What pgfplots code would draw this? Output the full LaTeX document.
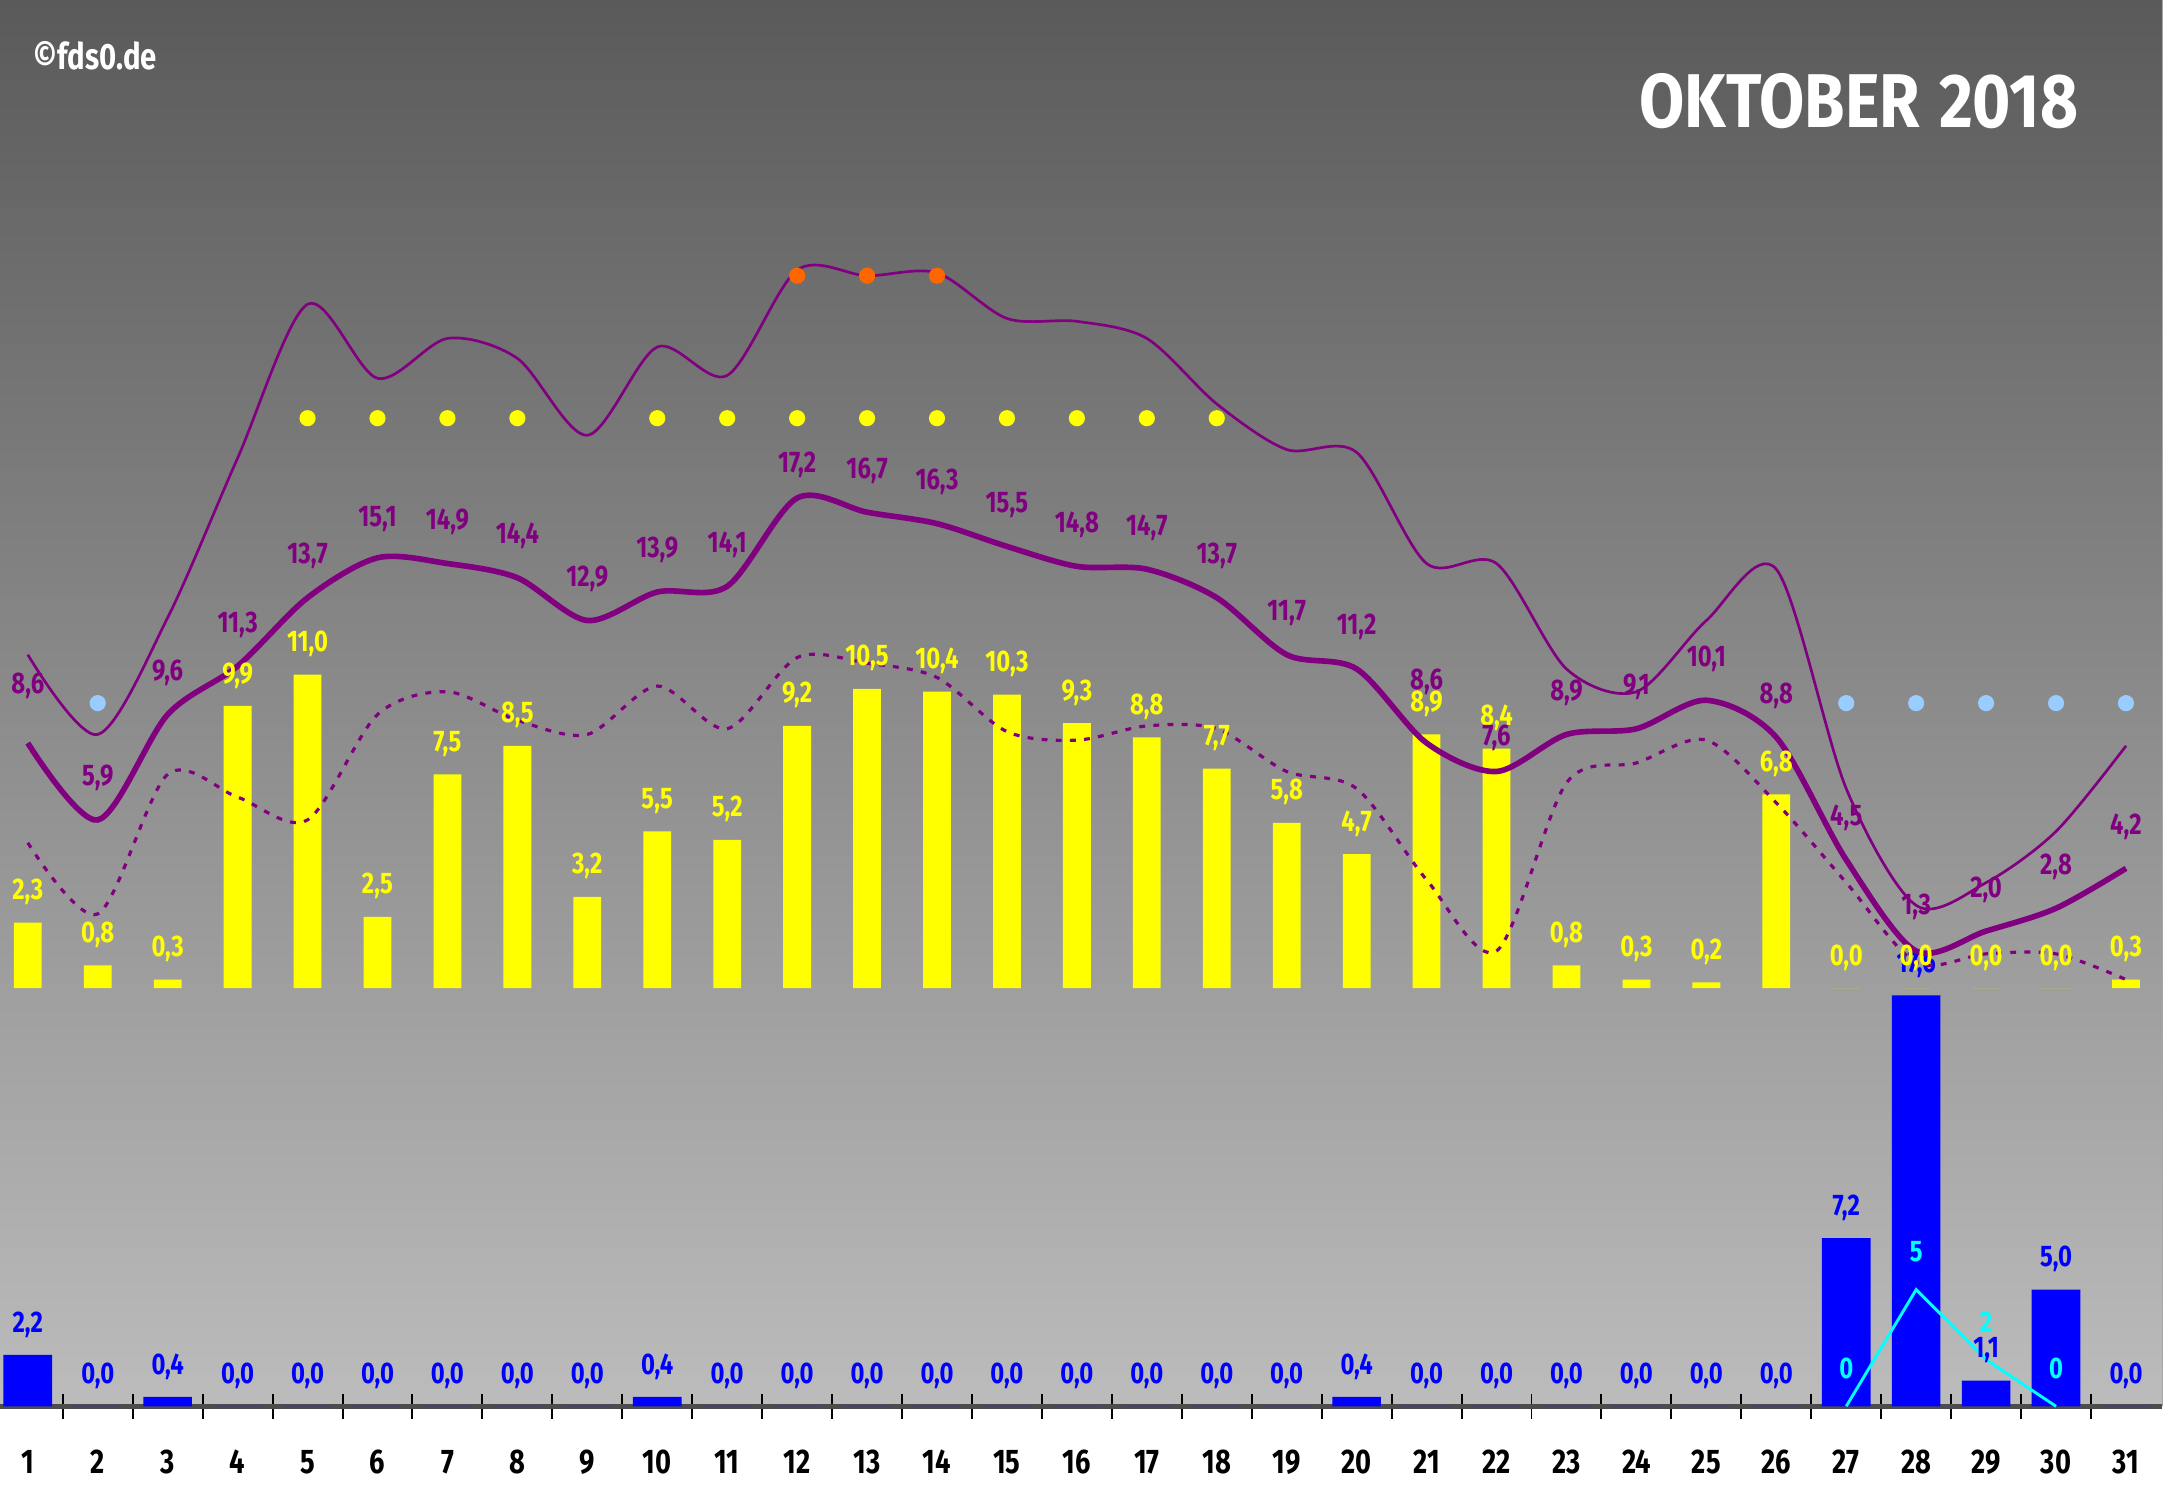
\documentclass[border=0pt]{standalone}
\usepackage{fontspec}
\setmainfont{Fira Sans}[FakeStretch=0.8]
\newfontfamily\titlefont{Fira Sans}[FakeStretch=0.86]
\usepackage{pgfplots}
\pgfplotsset{compat=1.18}

\definecolor{bgtop}{HTML}{5A5A5A}
\definecolor{bgmid}{HTML}{929292}
\definecolor{bgbot}{HTML}{BCBCBC}
\definecolor{sun}{HTML}{FFFF00}
\definecolor{rain}{HTML}{0000FF}
\definecolor{temp}{HTML}{800080}
\definecolor{snow}{HTML}{00FFFF}
\definecolor{cold}{HTML}{99CCFF}
\definecolor{hot}{HTML}{FF6600}

\newcommand{\lbl}{\fontsize{6.1}{7}\selectfont\bfseries}

\pgfplotsset{
  base/.style={
    scale only axis, width=15.56cm, height=10.12cm,
    at={(0cm,0.63cm)}, anchor=south west,
    xmin=0.6026, xmax=31.52, clip=false,
    /pgf/number format/use comma,
    /pgf/number format/fixed,
    /pgf/number format/fixed zerofill,
    /pgf/number format/precision=1,
    /pgf/number format/assume math mode=true,
  },
}

% mean temperature, with the label lift (cm) used for each day
\pgfplotstableread{
day mean lift
1   8.6  0.41
2   5.9  0.30
3   9.6  0.30
4   11.3 0.30
5   13.7 0.30
6   15.1 0.28
7   14.9 0.30
8   14.4 0.30
9   12.9 0.30
10  13.9 0.30
11  14.1 0.30
12  17.2 0.24
13  16.7 0.30
14  16.3 0.30
15  15.5 0.30
16  14.8 0.30
17  14.7 0.30
18  13.7 0.30
19  11.7 0.30
20  11.2 0.30
21  8.6  0.44
22  7.6  0.24
23  8.9  0.30
24  9.1  0.30
25  10.1 0.30
26  8.8  0.30
27  4.5  0.30
28  1.3  0.32
29  2.0  0.30
30  2.8  0.30
31  4.2  0.30
}\meantemp

\begin{document}
\begin{tikzpicture}
\path[use as bounding box] (0,0) rectangle (15.68,10.75);
\fill[white] (0,0) rectangle (15.68,10.75);
\shade[top color=bgtop, middle color=bgmid, bottom color=bgbot] (0,0.63) rectangle (15.56,10.75);
\draw[black!35, line width=0.3pt] (15.56,0.63) -- (15.56,10.75);

% precipitation axis (mm), with day ticks
\begin{axis}[base,
  ymin=0, ymax=60.24,
  axis x line*=bottom, hide y axis,
  x axis line style={-, line width=0.9pt, draw=black!70},
  xtick={1,...,31}, major tick length=0pt,
  xticklabel={\pgfmathparse{int(round(\tick))}\pgfmathresult},
  minor xtick={1.5,2.5,...,30.5}, minor tick length=0.18cm,
  tick align=center, minor tick style={black, line width=0.4pt},
  xticklabel style={font=\fontsize{7}{8}\selectfont\bfseries, black, anchor=center, yshift=-0.4cm},
]
  \addplot[ybar, bar shift=0pt, bar width=0.35cm, fill=rain, draw=none,
    nodes near coords, nodes near coords style={rain, font=\lbl, anchor=center, yshift=0.22cm}]
  coordinates {
    (1,2.2) (2,0.0) (3,0.4) (4,0.0) (5,0.0) (6,0.0) (7,0.0) (8,0.0) (9,0.0) (10,0.4)
    (11,0.0) (12,0.0) (13,0.0) (14,0.0) (15,0.0) (16,0.0) (17,0.0) (18,0.0) (19,0.0) (20,0.4)
    (21,0.0) (22,0.0) (23,0.0) (24,0.0) (25,0.0) (26,0.0) (27,7.2) (28,17.6) (29,1.1) (30,5.0)
    (31,0.0)
  };
  % snow depth (cm)
  \addplot[snow, line width=0.6pt, point meta=explicit symbolic,
    nodes near coords, nodes near coords style={snow, font=\lbl, anchor=center, yshift=0.27cm}]
  coordinates {(27,0) [0] (28,5) [5] (29,2) [2] (30,0) [0]};
\end{axis}

% temperature and sunshine axis
\begin{axis}[base,
  ymin=-14.68, ymax=34.68,
  hide x axis, hide y axis,
]
  % sunshine hours
  \addplot[ybar, bar shift=0pt, bar width=0.2cm, fill=sun, draw=none,
    nodes near coords, nodes near coords style={sun, font=\lbl, anchor=center, yshift=0.22cm}]
  coordinates {
    (1,2.3) (2,0.8) (3,0.3) (4,9.9) (5,11.0) (6,2.5) (7,7.5) (8,8.5) (9,3.2) (10,5.5)
    (11,5.2) (12,9.2) (13,10.5) (14,10.4) (15,10.3) (16,9.3) (17,8.8) (18,7.7) (19,5.8) (20,4.7)
    (21,8.9) (22,8.4) (23,0.8) (24,0.3) (25,0.2) (26,6.8) (27,0.0) (28,0.0) (29,0.0) (30,0.0)
    (31,0.3)
  };
  % maximum temperature
  \addplot[temp, line width=0.55pt, smooth] coordinates {
    (1,11.7) (2,8.9) (3,13.0) (4,18.6) (5,24.0) (6,21.4) (7,22.8) (8,22.1) (9,19.4) (10,22.5)
    (11,21.5) (12,25.2) (13,25.0) (14,25.1) (15,23.5) (16,23.4) (17,22.8) (18,20.5) (19,18.9) (20,18.8)
    (21,14.9) (22,14.9) (23,11.2) (24,10.4) (25,12.9) (26,14.7) (27,7.0) (28,2.9) (29,3.7) (30,5.5)
    (31,8.5)
  };
  % minimum temperature
  \addplot[temp, line width=0.65pt, smooth, dash pattern=on 1.2pt off 1.7pt] coordinates {
    (1,5.1) (2,2.6) (3,7.5) (4,6.7) (5,5.9) (6,9.6) (7,10.4) (8,9.4) (9,8.9) (10,10.6)
    (11,9.1) (12,11.6) (13,11.4) (14,10.9) (15,9.0) (16,8.7) (17,9.2) (18,9.1) (19,7.6) (20,7.0)
    (21,3.8) (22,1.3) (23,7.2) (24,7.9) (25,8.7) (26,6.5) (27,3.7) (28,0.9) (29,1.2) (30,1.2)
    (31,0.3)
  };
  % mean temperature
  \addplot[temp, line width=1.15pt, smooth,
    visualization depends on={\thisrow{lift} \as \lift},
    nodes near coords, nodes near coords style={temp, font=\lbl, anchor=center, yshift=\lift cm}]
  table[x=day, y=mean] {\meantemp};
  % day markers: max >= 20, max >= 25, max < 10
  \addplot[only marks, mark=*, mark size=1.45pt, sun] coordinates {
    (5,20) (6,20) (7,20) (8,20) (10,20) (11,20) (12,20) (13,20) (14,20) (15,20) (16,20) (17,20) (18,20)
  };
  \addplot[only marks, mark=*, mark size=1.45pt, hot] coordinates {(12,25) (13,25) (14,25)};
  \addplot[only marks, mark=*, mark size=1.45pt, cold] coordinates {
    (2,10) (27,10) (28,10) (29,10) (30,10) (31,10)
  };
\end{axis}

\node[white, font=\fontsize{7.5}{9}\selectfont\bfseries, anchor=west] at (0.12,10.35) {©fds0.de};
\node[white, font=\titlefont\fontsize{15.6}{18}\selectfont\bfseries, anchor=east] at (15.08,10.02) {OKTOBER\hspace{0.25em}2018};
\end{tikzpicture}
\end{document}
